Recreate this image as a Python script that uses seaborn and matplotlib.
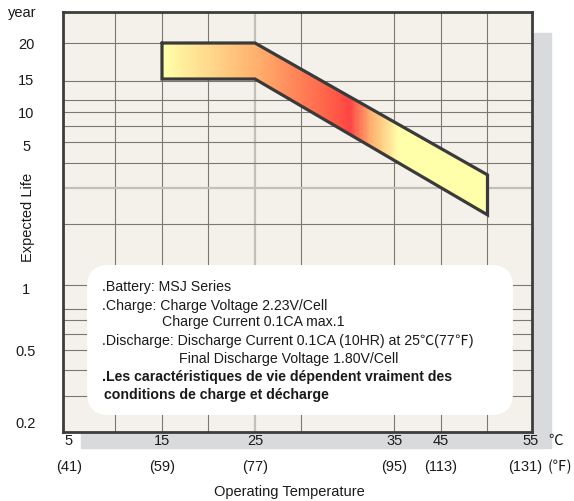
import numpy as np
import matplotlib
matplotlib.use("Agg")
import matplotlib.pyplot as plt
import seaborn as sns
from matplotlib.patches import Polygon, Rectangle, FancyBboxPatch
from matplotlib.colors import LinearSegmentedColormap
from matplotlib.transforms import blended_transform_factory

# ---- data ----
TEMP_C = ["5", "15", "25", "35", "45", "55"]
TEMP_F = ["(41)", "(59)", "(77)", "(95)", "(113)", "(131)"]
LIFE_TICKS = [0.2, 0.5, 1, 5, 10, 15, 20]
LIFE_LABELS = ["0.2", "0.5", "1", "5", "10", "15", "20"]

BAND_TEMP = [15, 25, 50]
BAND_UPPER = [20, 20, 3.58]
BAND_LOWER = [15, 15, 2.29]

# gradient along the band (temperature, colour)
GRAD_TEMP = [15, 25, 33, 35.2, 37.5, 40.5, 50]
GRAD_COLORS = ["#ffffaa", "#ffb26e", "#ff6048", "#ff4444", "#ffb070", "#ffffaa", "#ffffaa"]

NOTES = [
    (".Battery: MSJ Series", 0.0825, "normal"),
    (".Charge: Charge Voltage 2.23V/Cell", 0.0825, "normal"),
    ("Charge Current 0.1CA max.1", 0.2104, "normal"),
    (".Discharge: Discharge Current 0.1CA (10HR) at 25\u2103(77\u2109)", 0.0825, "normal"),
    ("Final Discharge Voltage 1.80V/Cell", 0.248, "normal"),
    (".Les caractéristiques de vie dépendent vraiment des", 0.0825, "bold"),
    ("conditions de charge et décharge", 0.0874, "bold"),
]

# ---- layout (pixel heights of the hand-drawn life scale) ----
TICK_H = [8.7, 81.7, 142.7, 286.7, 319.7, 352.7, 388.7]
AX_H = 419.7
LABEL_POS = [5, 15, 25, 40, 45, 54.6]
V_GRID = [10, 15, 20, 30, 40, 45, 50]
V_MAJOR = [25]
H_GRID = [0.28, 0.39, 0.5, 0.6, 0.7, 0.8, 1.05, 2.07, 4.1, 5.36, 7.5, 9.9, 11.6, 14.7, 20]
H_MAJOR = [3.09]

LOG_T = np.log10(LIFE_TICKS)
H = np.array(TICK_H)
S0 = (H[1] - H[0]) / (LOG_T[1] - LOG_T[0])
S1 = (H[-1] - H[-2]) / (LOG_T[-1] - LOG_T[-2])


def fwd(v):
    lv = np.log10(np.clip(np.asarray(v, float), 1e-4, None))
    out = np.interp(lv, LOG_T, H)
    out = np.where(lv < LOG_T[0], H[0] + (lv - LOG_T[0]) * S0, out)
    out = np.where(lv > LOG_T[-1], H[-1] + (lv - LOG_T[-1]) * S1, out)
    return out


def inv(h):
    h = np.asarray(h, float)
    lv = np.interp(h, H, LOG_T)
    lv = np.where(h < H[0], LOG_T[0] + (h - H[0]) / S0, lv)
    lv = np.where(h > H[-1], LOG_T[-1] + (h - H[-1]) / S1, lv)
    return 10 ** lv


sns.set_theme(style="white")
plt.rcParams["font.family"] = ["Liberation Sans", "DejaVu Sans"]

W, Hpx = 574, 501
fig = plt.figure(figsize=(W / 100, Hpx / 100), dpi=100)
ax = fig.add_axes([63 / W, (Hpx - 431.7) / Hpx, (532 - 63) / W, AX_H / Hpx])
ax.set_facecolor("#f4f0ea")

# drop shadow behind the plot panel
fig.patches.append(Rectangle((81 / W, (Hpx - 448) / Hpx), (551 - 81) / W, (448 - 33) / Hpx,
                             transform=fig.transFigure, color="#d9dadc", zorder=-1))

ax.set_yscale("function", functions=(fwd, inv))
ax.set_xlim(4.355, 54.785)
ax.set_ylim(float(inv(0)), float(inv(AX_H)))

# chart-paper grid
for x in V_GRID:
    ax.axvline(x, color="#7b7771", lw=0.8, zorder=0.5)
for x in V_MAJOR:
    ax.axvline(x, color="#c3bfb9", lw=1.6, zorder=0.5)
for y in H_GRID:
    ax.axhline(y, color="#7b7771", lw=0.8, zorder=0.5)
for y in H_MAJOR:
    ax.axhline(y, color="#c3bfb9", lw=1.6, zorder=0.5)

# gradient-filled life band
verts = list(zip(BAND_TEMP, BAND_UPPER)) + list(zip(BAND_TEMP[::-1], BAND_LOWER[::-1]))
band = Polygon(verts, closed=True, transform=ax.transData, facecolor="none", edgecolor="none")
ax.add_patch(band)
stops = [(t - GRAD_TEMP[0]) / (GRAD_TEMP[-1] - GRAD_TEMP[0]) for t in GRAD_TEMP]
cmap = LinearSegmentedColormap.from_list("life", list(zip(stops, GRAD_COLORS)))
xs = np.linspace(BAND_TEMP[0], BAND_TEMP[-1], 351)
vals = ((xs[:-1] + xs[1:]) / 2)[None, :]
mesh = ax.pcolormesh(xs, [min(BAND_LOWER) * 0.9, max(BAND_UPPER) * 1.05], vals, cmap=cmap,
                     vmin=GRAD_TEMP[0], vmax=GRAD_TEMP[-1], shading="flat", zorder=1)
mesh.set_clip_path(band)

ox = [v[0] for v in verts] + [verts[0][0]]
oy = [v[1] for v in verts] + [verts[0][1]]
sns.lineplot(x=ox, y=oy, sort=False, estimator=None, color="#3a3a3a", linewidth=2.3,
             solid_joinstyle="miter", ax=ax, zorder=2)

# note box
box = FancyBboxPatch((0.0512, 0.0398), 0.9595 - 0.0512, 0.3972 - 0.0398,
                     boxstyle="round,pad=0,rounding_size=0.0469", mutation_aspect=1.1175,
                     transform=ax.transAxes, facecolor="white", edgecolor="none", zorder=3)
ax.add_patch(box)
note_y = [0.344, 0.300, 0.2607, 0.2168, 0.1732, 0.1296, 0.0874]
for (txt, x, wt), y in zip(NOTES, note_y):
    ax.text(x, y, txt, transform=ax.transAxes, fontsize=10.2, fontweight=wt, color="#1a1a1a",
            va="center", ha="left", zorder=4,
            family=["Liberation Sans", "Noto Sans CJK JP", "DejaVu Sans"])

# axes styling
for s in ax.spines.values():
    s.set_color("#3d3d3d")
    s.set_linewidth(2.0)
    s.set_zorder(5)

ax.set_yticks(LIFE_TICKS, LIFE_LABELS)
ax.yaxis.set_minor_locator(matplotlib.ticker.NullLocator())
ax.tick_params(axis="y", length=0, pad=26.6, labelsize=10.5, labelcolor="#1a1a1a")
for lab in ax.get_yticklabels():
    lab.set_ha("center")

ax.set_xticks(LABEL_POS, TEMP_C)
ax.tick_params(axis="x", length=0, pad=2, labelsize=10.5, labelcolor="#1a1a1a")
ax.set_xlabel("")
ax.set_ylabel("")

trans = blended_transform_factory(ax.transData, ax.transAxes)
for x, lab in zip(LABEL_POS[:-1] + [54.1], TEMP_F):
    ax.text(x, -0.083, lab, transform=trans, ha="center", va="center", fontsize=10.5, color="#1a1a1a")
ax.text(1.034, -0.022, "\u2103", transform=ax.transAxes, ha="left", va="center", fontsize=10.5,
        color="#1a1a1a", family=["Noto Sans CJK JP", "DejaVu Sans"])
ax.text(1.034, -0.083, "(\u2109)", transform=ax.transAxes, ha="left", va="center", fontsize=10.5,
        color="#1a1a1a", family=["Noto Sans CJK JP", "DejaVu Sans"], clip_on=False)

fig.text(22 / W, 1 - 13 / Hpx, "year", ha="center", va="center", fontsize=10.5, color="#1a1a1a")
fig.text(28 / W, 1 - 217 / Hpx, "Expected Life", ha="center", va="center", rotation=90,
         fontsize=10.5, color="#1a1a1a")
fig.text(289 / W, 1 - 492 / Hpx, "Operating Temperature", ha="center", va="center",
         fontsize=10.5, color="#1a1a1a")

fig.savefig("out.png", dpi=100)
